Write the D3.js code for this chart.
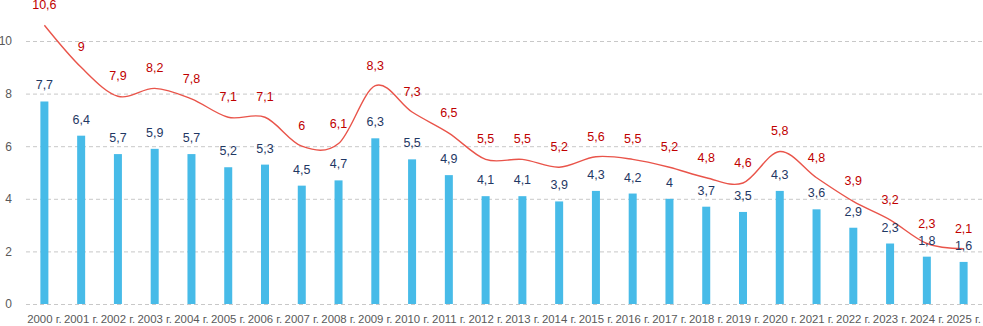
<!DOCTYPE html>
<html>
<head>
<meta charset="utf-8">
<script src="https://cdn.jsdelivr.net/npm/d3@7"></script>
<style>
    body { margin: 0; background: #fff; }
    svg { display: block; font-family: "Liberation Sans", Arial, sans-serif; }
    .grid line { stroke: #c8c8c8; stroke-dasharray: 4 3; }
    .grid .domain { display: none; }
    .axis-y text, .axis-x text { fill: #595959; }
    .axis-y .domain, .axis-y line, .axis-x .domain, .axis-x line { display: none; }
</style>
</head>
<body>
<div id="chart"></div>
<script>
const years = ["2000 г.", "2001 г.", "2002 г.", "2003 г.", "2004 г.", "2005 г.", "2006 г.",
    "2007 г.", "2008 г.", "2009 г.", "2010 г.", "2011 г.", "2012 г.", "2013 г.", "2014 г.",
    "2015 г.", "2016 г.", "2017 г.", "2018 г.", "2019 г.", "2020 г.", "2021 г.", "2022 г.",
    "2023 г.", "2024 г.", "2025 г."];
const barValues = [7.7, 6.4, 5.7, 5.9, 5.7, 5.2, 5.3, 4.5, 4.7, 6.3, 5.5, 4.9, 4.1, 4.1, 3.9,
    4.3, 4.2, 4, 3.7, 3.5, 4.3, 3.6, 2.9, 2.3, 1.8, 1.6];
const lineValues = [10.6, 9, 7.9, 8.2, 7.8, 7.1, 7.1, 6, 6.1, 8.3, 7.3, 6.5, 5.5, 5.5, 5.2,
    5.6, 5.5, 5.2, 4.8, 4.6, 5.8, 4.8, 3.9, 3.2, 2.3, 2.1];
const yTicks = [0, 2, 4, 6, 8, 10];

const width = 983, height = 326;
const margin = { top: 41, right: 1, bottom: 22, left: 26 };
const innerWidth = width - margin.left - margin.right;
const innerHeight = height - margin.top - margin.bottom;

const data = years.map((y, i) => ({ year: y, bar: barValues[i], line: lineValues[i] }));

const svg = d3.select("#chart")
    .append("svg")
    .attr("width", width)
    .attr("height", height);

const inner = svg.append("g")
    .attr("transform", `translate(${margin.left}, ${margin.top})`);

const xScale = d3.scaleBand()
    .domain(years)
    .range([0, innerWidth]);

const yScale = d3.scaleLinear()
    .domain([0, 10])
    .range([innerHeight, 0]);

// grid first
inner.append("g")
    .attr("class", "grid")
    .call(d3.axisLeft(yScale).tickValues(yTicks).tickSize(-innerWidth).tickFormat(""));

inner.append("g")
    .attr("class", "axis-y")
    .call(d3.axisLeft(yScale).tickValues(yTicks).tickSize(0).tickPadding(14))
    .selectAll("text")
    .style("font-size", "12px");

inner.append("g")
    .attr("class", "axis-x")
    .attr("transform", `translate(0, ${innerHeight})`)
    .call(d3.axisBottom(xScale).tickSize(0).tickPadding(11))
    .selectAll("text")
    .style("font-size", "11.4px");

const barW = 8;
const cx = d => xScale(d.year) + xScale.bandwidth() / 2;

inner.selectAll("rect.bar")
    .data(data)
    .join("rect")
    .attr("class", "bar")
    .attr("x", d => cx(d) - barW / 2)
    .attr("y", d => yScale(d.bar))
    .attr("width", barW)
    .attr("height", d => innerHeight - yScale(d.bar))
    .attr("fill", "#47bbe8");

const lineGenerator = d3.line()
    .x(cx)
    .y(d => yScale(d.line))
    .curve(d3.curveCardinal);

inner.append("path")
    .attr("d", lineGenerator(data))
    .attr("stroke", "#e9544a")
    .attr("stroke-width", 1.4)
    .attr("fill", "none");

const fmt = v => String(v).replace(".", ",");

inner.selectAll("text.bar-label")
    .data(data)
    .join("text")
    .attr("class", "bar-label")
    .attr("x", cx)
    .attr("y", d => yScale(d.bar) - 12)
    .attr("text-anchor", "middle")
    .style("font-size", "12.5px")
    .attr("fill", "#1f3864")
    .text(d => fmt(d.bar));

inner.selectAll("text.line-label")
    .data(data)
    .join("text")
    .attr("class", "line-label")
    .attr("x", cx)
    .attr("y", d => yScale(d.line) - 16)
    .attr("text-anchor", "middle")
    .style("font-size", "12.5px")
    .attr("fill", "#c00000")
    .text(d => fmt(d.line));
</script>
</body>
</html>
